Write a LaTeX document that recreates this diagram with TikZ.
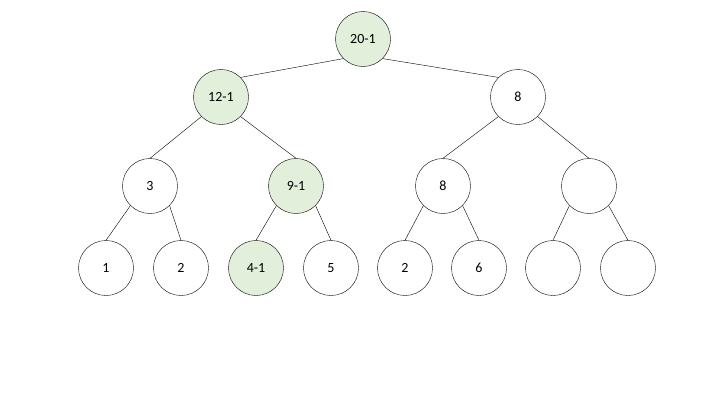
\documentclass[tikz,border=0pt]{standalone}
\usepackage{fontspec}
\setmainfont{Carlito}
\usepackage{xcolor}
\definecolor{hitgreen}{RGB}{226,239,218}
\usetikzlibrary{positioning}

\begin{document}
\begin{tikzpicture}[x=1pt, y=-1pt,
  every node/.style={inner sep=0pt},
  seg/.style={circle, draw=black, thin, minimum size=55pt,
              font=\fontsize{14}{16}\selectfont},
  hit/.style={seg, fill=hitgreen},
  edge/.style={black, thin}]
\useasboundingbox (0,0) rectangle (720,405);
% root and first level
\node[hit] (r)  at (363,39) {20-1};
\node[hit] (l)  at (221,97) {12-1};
\node[seg] (rr) at (518,97) {8};
% second level
\node[seg] (ll) at (150,186) {3};
\node[hit] (lr) at (296,186) {9-1};
\node[seg] (rl) at (443,186) {8};
\node[seg] (rx) at (589,186) {};
% leaves
\node[seg] (a) at (106,268) {1};
\node[seg] (b) at (181,268) {2};
\node[hit] (c) at (256,268) {4-1};
\node[seg] (d) at (331,268) {5};
\node[seg] (e) at (405,268) {2};
\node[seg] (f) at (479,268) {6};
\node[seg] (g) at (553,268) {};
\node[seg] (h) at (628,268) {};
\draw[edge] (r.south west) -- (l.north east);
\draw[edge] (r.south east) -- (rr.north west);
\draw[edge] (l.south west) -- (ll.north);
\draw[edge] (l.south east) -- (lr.north);
\draw[edge] (rr.south west) -- (rl.north);
\draw[edge] (rr.south east) -- (rx.north);
\draw[edge] (ll.south west) -- (a.north);
\draw[edge] (ll.south east) -- (b.north);
\draw[edge] (lr.south west) -- (c.north);
\draw[edge] (lr.south east) -- (d.north);
\draw[edge] (rl.south west) -- (e.north);
\draw[edge] (rl.south east) -- (f.north);
\draw[edge] (rx.south west) -- (g.north);
\draw[edge] (rx.south east) -- (h.north);
\end{tikzpicture}
\end{document}
